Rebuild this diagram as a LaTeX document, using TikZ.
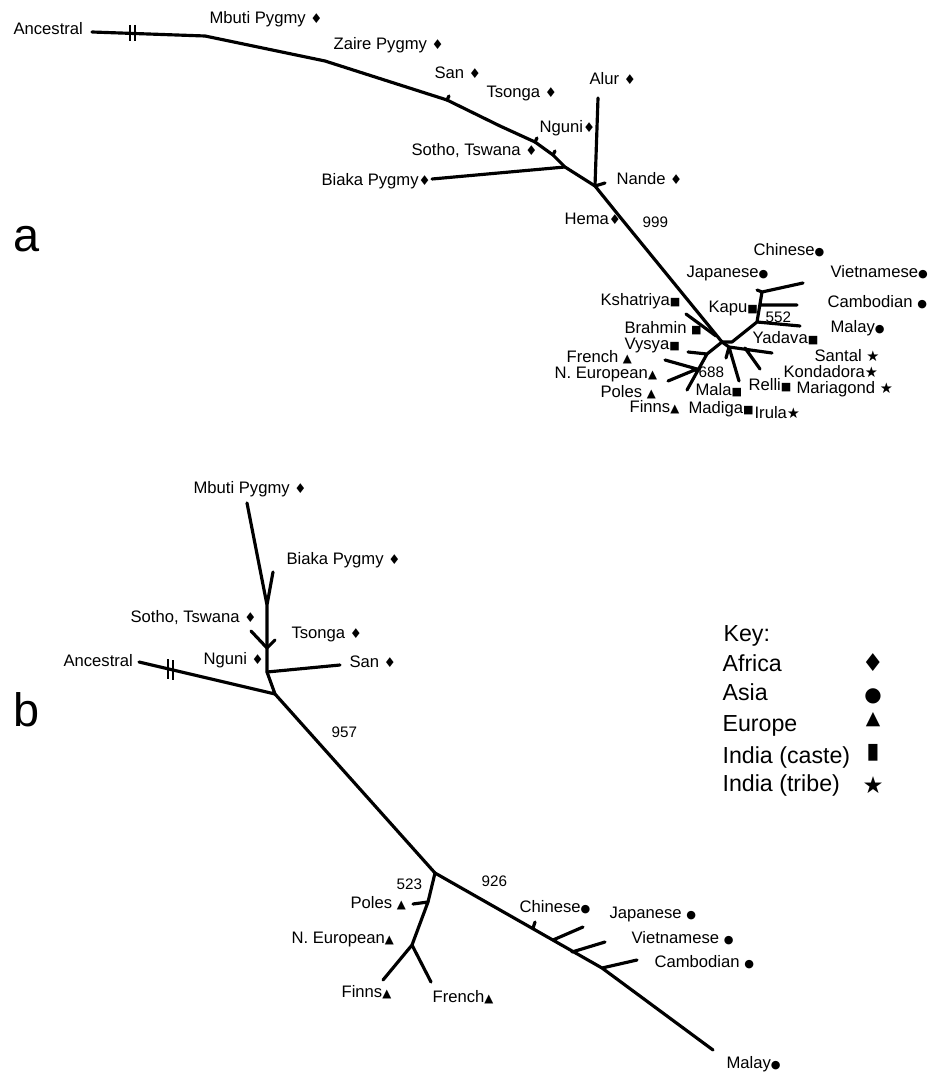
\documentclass[tikz,border=0pt]{standalone}
\usepackage{fontspec}
\setmainfont{Liberation Sans}
\newfontfamily\markfont{DejaVu Sans}
\newcommand{\africa}[1][11.5]{{\markfont\fontsize{#1}{#1}\selectfont ♦}}
\newcommand{\asia}[1][9.5]{{\markfont\fontsize{#1}{#1}\selectfont ●}}
\newcommand{\europe}[1][10]{{\markfont\fontsize{#1}{#1}\selectfont ▲}}
\newcommand{\caste}[1][9.5]{{\markfont\fontsize{#1}{#1}\selectfont ■}}
\newcommand{\tribe}[1][12.5]{{\markfont\fontsize{#1}{#1}\selectfont ★}}

\begin{document}
\begin{tikzpicture}[x=0.03cm,y=-0.03cm,line width=2.7pt,line cap=round,line join=round]
        \tikzstyle{lbl}=[anchor=west,inner sep=0pt,text height=10pt,text depth=0pt,font=\fontsize{14.2}{16}\selectfont]
        \tikzstyle{num}=[lbl,text height=9.3pt,font=\fontsize{13}{15}\selectfont]
        \tikzstyle{key}=[lbl,text height=14pt,font=\fontsize{19.8}{22}\selectfont]
        \tikzstyle{panel}=[lbl,text height=20pt,font=\fontsize{40}{44}\selectfont]
        \tikzstyle{brk}=[line width=1.3pt,line cap=butt]

        \useasboundingbox (0,0) rectangle (927,1074);

        % tree a
        \coordinate (a0) at (92,32);
        \coordinate (a1) at (205,36);
        \coordinate (a2) at (325,61);
        \coordinate (a3) at (447,100);
        \coordinate (a4) at (500,126);
        \coordinate (a5) at (535,142);
        \coordinate (a6) at (553,155);
        \coordinate (a7) at (565,167);
        \coordinate (a8) at (595,186);
        \coordinate (a9) at (620,217);
        \coordinate (ak) at (716,336);
        \coordinate (ac) at (722,342);
        \coordinate (abrk1) at (130,33);
        \coordinate (abrk2) at (135,33);
        \coordinate (biakaA) at (432,179);
        \coordinate (alurA) at (598,98);
        \coordinate (nandeA) at (605,183);
        \coordinate (kshA) at (686,314);
        \coordinate (n1) at (707,354);
        \coordinate (n2) at (697,369);
        \coordinate (vysyaA) at (688,352);
        \coordinate (frenchA) at (665,360);
        \coordinate (neurA) at (668,381);
        \coordinate (finnsA) at (687,390);
        \coordinate (s1) at (732,342);
        \coordinate (s2) at (757,322);
        \coordinate (s3) at (762,292);
        \coordinate (s4) at (760,305);
        \coordinate (chinaA) at (803,283);
        \coordinate (cambA) at (797,305);
        \coordinate (malayA) at (800,326);
        \coordinate (r1) at (729,347);
        \coordinate (r2) at (745,348);
        \coordinate (santalA) at (772,353);
        \coordinate (kondA) at (760,369);
        \coordinate (malaA) at (739,381);
        \coordinate (irulaA) at (726,358);

        \draw (a0) -- (a1) -- (a2) -- (a3) -- (a4) -- (a5) -- (a6) -- (a7) -- (a8) -- (a9) -- (ac);
        \draw[brk] (abrk1) ++(0,-8) -- ++(0,16) (abrk2) ++(0,-8) -- ++(0,16);
        \draw (a3) -- ++(2,-4) (a5) -- ++(2,-4) (a6) -- ++(2,-4);
        \draw (a7) -- (biakaA) (a8) -- (alurA) (a8) -- (nandeA);
        \draw (kshA) -- (ak);
        \draw (ac) -- (n1) -- (finnsA) (n1) -- (vysyaA) (n2) -- (frenchA) (n2) -- (neurA);
        \draw (ac) -- (s1) -- (s2) -- (s3) -- (chinaA) (s3) -- ++(-5,-2) (s4) -- (cambA) (s2) -- (malayA);
        \draw (ac) -- (r1) -- (malaA) (r1) -- (irulaA) (r1) -- (santalA) (r2) -- (kondA);

        \node[panel] (pa) at (12,240) {a};
        \node[lbl] (ancA) at (12,29) {Ancestral};
        \node[lbl] (mbutiA) at (208,18) {Mbuti Pygmy \africa};
        \node[lbl] (zaireA) at (332,44) {Zaire Pygmy \africa};
        \node[lbl] (sanA) at (433,73) {San \africa};
        \node[lbl] (tsongaA) at (485,92) {Tsonga \africa};
        \node[lbl] (alurL) at (588,79) {Alur \africa};
        \node[lbl] (nguniA) at (538,127) {Nguni\africa};
        \node[lbl] (sothoA) at (410,150) {Sotho, Tswana \africa};
        \node[lbl] (biakaL) at (320,180) {Biaka Pygmy\africa};
        \node[lbl] (nandeL) at (615,179) {Nande \africa};
        \node[lbl] (hemaA) at (563,219) {Hema\africa};
        \node[num] (bs999) at (641,222) {999};
        \node[lbl] (chineseA) at (752,250) {Chinese\asia};
        \node[lbl] (japaneseA) at (685,272) {Japanese\asia};
        \node[lbl] (vietA) at (829,272) {Vietnamese\asia};
        \node[lbl] (kshL) at (599,300) {Kshatriya\caste};
        \node[lbl] (kapuA) at (707,307) {Kapu\caste};
        \node[lbl] (cambL) at (826,302) {Cambodian \asia};
        \node[num] (bs552) at (764,317) {552};
        \node[lbl] (malayL) at (829,327) {Malay\asia};
        \node[lbl] (brahminA) at (623,328) {Brahmin \caste};
        \node[lbl] (yadavaA) at (751,338) {Yadava\caste};
        \node[lbl] (vysyaL) at (623,344) {Vysya\caste};
        \node[lbl] (frenchL) at (565,357) {French \europe};
        \node[lbl] (santalL) at (813,356) {Santal \tribe};
        \node[lbl] (neurL) at (553,373) {N. European\europe};
        \node[lbl] (kondL) at (782,372) {Kondadora\tribe};
        \node[num] (bs688) at (697,372) {688};
        \node[lbl] (polesA) at (599,392) {Poles \europe};
        \node[lbl] (malaL) at (694,390) {Mala\caste};
        \node[lbl] (relliA) at (747,385) {Relli\caste};
        \node[lbl] (mariaA) at (795,388) {Mariagond \tribe};
        \node[lbl] (finnsL) at (628,407) {Finns\europe};
        \node[lbl] (madigaA) at (687,408) {Madiga\caste};
        \node[lbl] (irulaL) at (753,413) {Irula\tribe};

        % tree b
        \coordinate (b0) at (139,662);
        \coordinate (bj) at (275,694);
        \coordinate (bv) at (267,672);
        \coordinate (bs) at (267,648);
        \coordinate (bm) at (267,605);
        \coordinate (bbrk1) at (168,669);
        \coordinate (bbrk2) at (173,670);
        \coordinate (mbutiB) at (247,503);
        \coordinate (biakaB) at (273,572);
        \coordinate (sothoB) at (251,631);
        \coordinate (tsongaB) at (275,640);
        \coordinate (sanB) at (340,665);
        \coordinate (e0) at (435,873);
        \coordinate (e1) at (428,902);
        \coordinate (e2) at (412,945);
        \coordinate (polesB) at (413,904);
        \coordinate (finnsB) at (383,980);
        \coordinate (frenchB) at (431,982);
        \coordinate (c1) at (533,928);
        \coordinate (c2) at (553,940);
        \coordinate (c3) at (572,952);
        \coordinate (c4) at (602,968);
        \coordinate (japB) at (583,927);
        \coordinate (vietB) at (605,942);
        \coordinate (cambB) at (637,960);
        \coordinate (malayB) at (713,1050);

        \draw (b0) -- (bj) -- (bv) -- (bm) -- (mbutiB) (bm) -- (biakaB);
        \draw[brk] (bbrk1) ++(0,-10) -- ++(0,20) (bbrk2) ++(0,-10) -- ++(0,20);
        \draw (sothoB) -- (bs) (tsongaB) -- (bs) (bv) -- (sanB);
        \draw (bj) -- (e0) -- (e1) -- (e2) -- (finnsB) (e2) -- (frenchB) (e1) -- (polesB);
        \draw (e0) -- (c4) -- (malayB) (c1) -- ++(2,-6) (c2) -- (japB) (c3) -- (vietB) (c4) -- (cambB);

        \node[panel] (pb) at (12,715) {b};
        \node[lbl] (ancB) at (62,661) {Ancestral};
        \node[lbl] (mbutiL) at (192,488) {Mbuti Pygmy \africa};
        \node[lbl] (biakaLB) at (285,559) {Biaka Pygmy \africa};
        \node[lbl] (sothoL) at (129,617) {Sotho, Tswana \africa};
        \node[lbl] (tsongaL) at (290,633) {Tsonga \africa};
        \node[lbl] (nguniL) at (202,659) {Nguni \africa};
        \node[lbl] (sanL) at (348,662) {San \africa};
        \node[num] (bs957) at (330,732) {957};
        \node[num] (bs523) at (395,884) {523};
        \node[num] (bs926) at (480,881) {926};
        \node[lbl] (polesL) at (349,903) {Poles \europe};
        \node[lbl] (neurLB) at (290,938) {N. European\europe};
        \node[lbl] (finnsLB) at (340,992) {Finns\europe};
        \node[lbl] (frenchLB) at (431,997) {French\europe};
        \node[lbl] (chineseL) at (518,907) {Chinese\asia};
        \node[lbl] (japL) at (608,913) {Japanese \asia};
        \node[lbl] (vietL) at (630,938) {Vietnamese \asia};
        \node[lbl] (cambLB) at (653,962) {Cambodian \asia};
        \node[lbl] (malayLB) at (725,1063) {Malay\asia};

        % key
        \node[key] (keyhead) at (722,633) {Key:};
        \node[key] (kafr) at (721,663) {Africa};
        \node[key] (kasia) at (721,692) {Asia};
        \node[key] (keur) at (721,723) {Europe};
        \node[key] (kcaste) at (721,755) {India (caste)};
        \node[key] (ktribe) at (721,783) {India (tribe)};
        \node (mafr) at (873,663) {\africa[21]};
        \node (masia) at (873,696) {\asia[17]};
        \node (meur) at (873,720) {\europe[16]};
        \node (mcaste) at (873,753) {\scalebox{0.6}[1.1]{\caste[17]}};
        \node (mtribe) at (873,785) {\tribe[20]};
\end{tikzpicture}
\end{document}
